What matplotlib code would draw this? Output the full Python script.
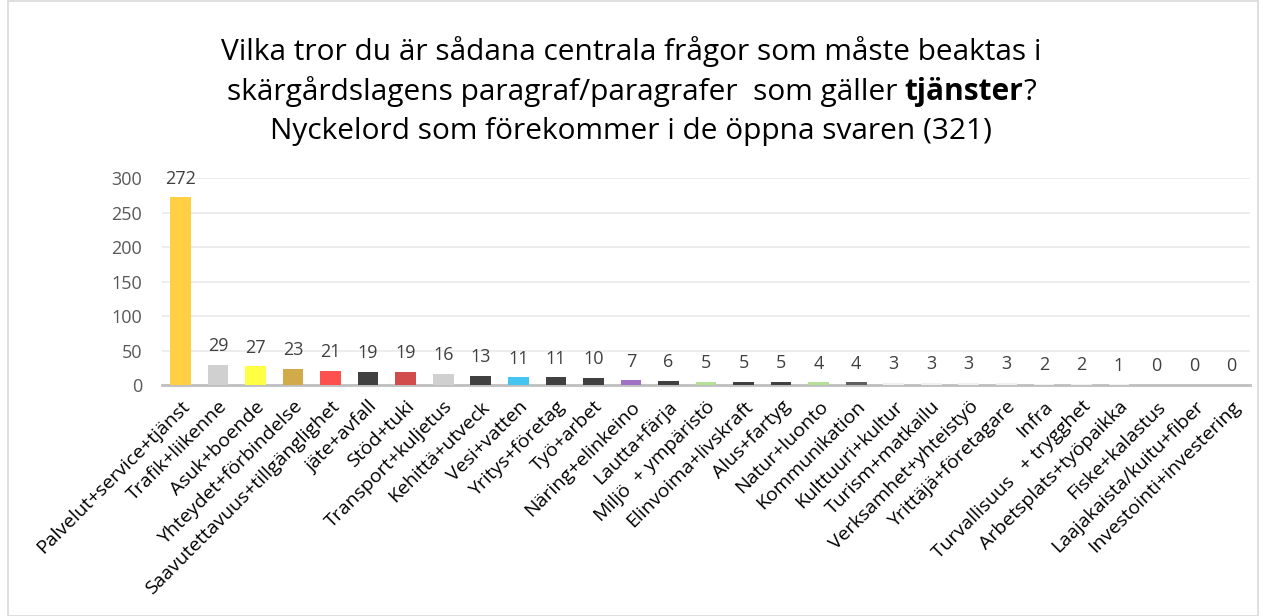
import matplotlib.pyplot as plt
from matplotlib.patches import Rectangle

plt.rcParams['font.family'] = ['Open Sans', 'DejaVu Sans']

categories = ["Palvelut+service+tjänst", "Trafik+liikenne", "Asuk+boende", "Yhteydet+förbindelse",
              "Saavutettavuus+tillgänglighet", "jäte+avfall", "Stöd+tuki", "Transport+kuljetus",
              "Kehittä+utveck", "Vesi+vatten", "Yritys+företag", "Työ+arbet", "Näring+elinkeino",
              "Lautta+färja", "Miljö  + ympäristö", "Elinvoima+livskraft", "Alus+fartyg",
              "Natur+luonto", "Kommunikation", "Kulttuuri+kultur", "Turism+matkailu",
              "Verksamhet+yhteistyö", "Yrittäjä+företagare", "Infra", "Turvallisuus   + trygghet",
              "Arbetsplats+työpaikka", "Fiske+kalastus", "Laajakaista/kuitu+fiber",
              "Investointi+investering"]
values = [272, 29, 27, 23, 21, 19, 19, 16, 13, 11, 11, 10, 7, 6, 5, 5, 5, 4, 4,
          3, 3, 3, 3, 2, 2, 1, 0, 0, 0]
colors = ["#FFD044", "#D0D0D0", "#FFFF44", "#D1AB4A", "#FF5050", "#404040", "#D24C4C",
          "#D0D0D0", "#404040", "#44C4F0", "#404040", "#404040", "#A070C4", "#404040",
          "#B4E096", "#404040", "#404040", "#B4E096", "#606060",
          "#F0F0F0", "#F0F0F0", "#F0F0F0", "#F0F0F0", "#F0F0F0", "#F0F0F0", "#F0F0F0",
          "#F0F0F0", "#F0F0F0", "#F0F0F0"]

fig = plt.figure(figsize=(12.63, 6.16), dpi=100)
fig.patches.append(Rectangle((0.006, 0.0), 0.99, 0.998, transform=fig.transFigure,
                             fill=False, edgecolor="#D9D9D9", linewidth=1.2))
ax = fig.add_axes([0.128, 0.375, 0.862, 0.336])

x = list(range(len(values)))
ax.bar(x, values, width=0.55, color=colors, zorder=3)
for i, v in enumerate(values):
    ax.text(i, v + 14, str(v), ha='center', va='bottom', fontsize=13, color="#404040")

ax.set_xlim(-0.5, len(values) - 0.5)
ax.set_ylim(0, 300)
ax.set_yticks(range(0, 301, 50))
ax.yaxis.grid(True, color="#EAEAEA", linewidth=1.2, zorder=0)
for s in ['top', 'right', 'left']:
    ax.spines[s].set_visible(False)
ax.spines['bottom'].set_color("#BFBFBF")
ax.spines['bottom'].set_linewidth(2)
ax.tick_params(axis='y', length=0, labelsize=13, labelcolor="#595959", pad=14)
ax.tick_params(axis='x', length=0, pad=9)
ax.set_xticks(x)
ax.set_xticklabels(categories, rotation=45, ha='right', rotation_mode='anchor',
                   fontsize=14, color="#000000")

# title, with bold word on the second line
tc = "#000000"
fs = 21.5
fig.text(0.5, 1 - 52 / 616, "Vilka tror du är sådana centrala frågor som måste beaktas i",
         ha='center', va='center', fontsize=fs, color=tc)
fig.text(0.5, 1 - 132 / 616, "Nyckelord som förekommer i de öppna svaren (321)",
         ha='center', va='center', fontsize=fs, color=tc)

parts = [("skärgårdslagens paragraf/paragrafer  som gäller ", 'normal'),
         ("tjänster", 'bold'), ("?", 'normal')]
fig.canvas.draw()
r = fig.canvas.get_renderer()
texts = []
for s, w in parts:
    t = fig.text(0, 1 - 92 / 616, s, ha='left', va='center', fontsize=fs,
                 fontweight=w, color=tc)
    texts.append(t)
widths = [t.get_window_extent(r).width for t in texts]
total = sum(widths)
xpos = (fig.bbox.width - total) / 2
for t, wd in zip(texts, widths):
    t.set_x(xpos / fig.bbox.width)
    xpos += wd

fig.savefig("out.png", dpi=100)
